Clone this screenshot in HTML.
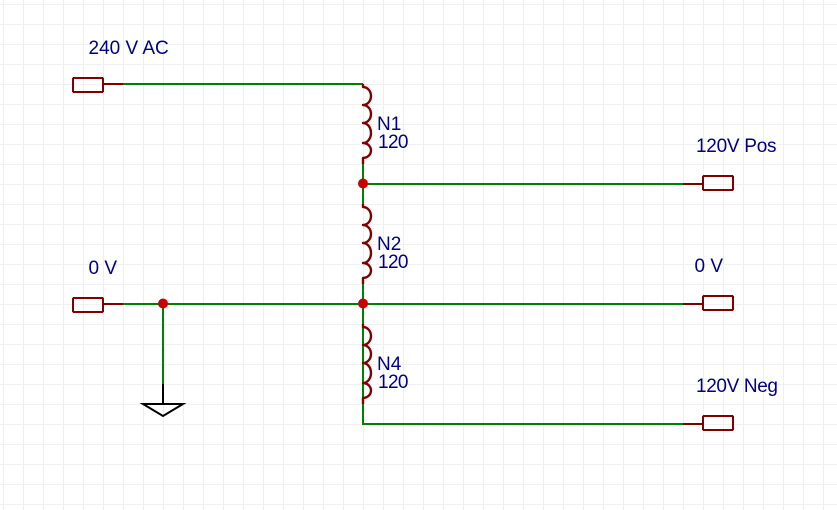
<!DOCTYPE html>
<html><head><meta charset="utf-8"><style>
html,body{margin:0;padding:0;background:#fff;width:837px;height:510px;overflow:hidden}
svg{display:block}
text{font-family:"Liberation Sans",Arial,sans-serif;font-size:19px;fill:#000080}
</style></head><body>
<svg width="837" height="510" viewBox="0 0 837 510" xmlns="http://www.w3.org/2000/svg">
<defs>
<pattern id="g" x="3" y="4" width="20" height="20" patternUnits="userSpaceOnUse">
<rect x="0" y="0" width="1" height="20" fill="#eeeeee"/>
<rect x="0" y="0" width="20" height="1" fill="#f1f1f1"/>
</pattern>
</defs>
<rect width="837" height="510" fill="url(#g)"/>
<g fill="none" stroke="#008000" stroke-width="2" shape-rendering="crispEdges">
<path d="M123 84H363V84M363 164V204M363 284V424H683M363 184H683M123 304H683M163 304V384"/>
</g>
<g fill="none" stroke="#800000" stroke-width="2" shape-rendering="crispEdges">
<path d="M103 84H123M103 304H123M683 184H703M683 304H703M683 424H703"/>
<rect x="73" y="78" width="30" height="14" rx="1"/>
<rect x="73" y="298" width="30" height="14" rx="1"/>
<rect x="703" y="176" width="30" height="14" rx="1"/>
<rect x="703" y="296" width="30" height="14" rx="1"/>
<rect x="703" y="416" width="30" height="14" rx="1"/>
</g>
<g fill="none" stroke="#800000" stroke-width="2.400" stroke-linejoin="round">
<path d="M363 84V87A8 9 0 0 1 363 105A8 9 0 0 1 363 123A8 10 0 0 1 363 143A8 7.500 0 0 1 363 158V164"/>
<path d="M363 204V207A8 9 0 0 1 363 225A8 9 0 0 1 363 243A8 10 0 0 1 363 263A8 7.500 0 0 1 363 278V284"/>
<path d="M363 324V327A8 9 0 0 1 363 345A8 9 0 0 1 363 363A8 10 0 0 1 363 383A8 7.500 0 0 1 363 398V404"/>
</g>
<g fill="none" stroke="#000" stroke-width="2">
<path d="M163 384V404" shape-rendering="crispEdges"/>
<path d="M143 404H183L163 416Z"/>
</g>
<g fill="#cc0000">
<circle cx="363" cy="183.500" r="5"/>
<circle cx="363" cy="303.500" r="5"/>
<circle cx="163" cy="303.500" r="5"/>
</g>
<text x="88.500" y="54">240 V AC</text>
<text x="88.500" y="274">0 V</text>
<text x="377" y="130">N1</text>
<text x="378" y="148" textLength="30.500">120</text>
<text x="377" y="250">N2</text>
<text x="378" y="268" textLength="30.500">120</text>
<text x="377" y="370">N4</text>
<text x="378" y="388" textLength="30.500">120</text>
<text x="696" y="152" textLength="80.500">120V Pos</text>
<text x="694.500" y="272">0 V</text>
<text x="696" y="392" textLength="82">120V Neg</text>
</svg>
</body></html>
